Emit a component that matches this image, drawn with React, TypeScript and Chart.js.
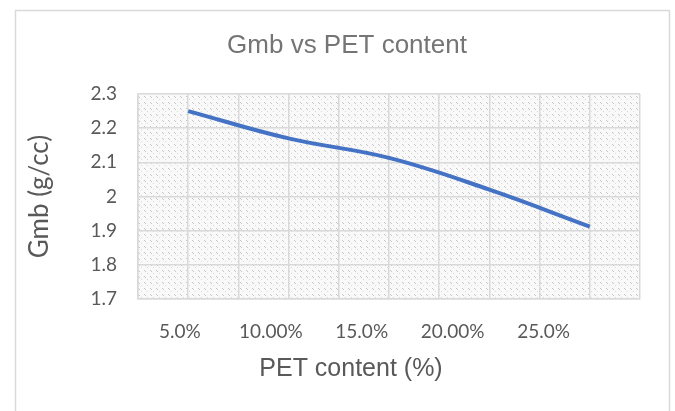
import React, { useEffect, useRef } from "react";
import { Chart, registerables } from "chart.js";

Chart.register(...registerables);

// PET content (%) and the measured bulk specific gravity
const petContent = [5, 10, 15, 20, 25];
const gmbValues = [2.25, 2.17, 2.113, 2.02, 1.912];
const xTickValues = [5, 10, 15, 20, 25];
const xTickLabels = ["5.0%", "10.00%", "15.0%", "20.00%", "25.0%"];

const chartTitle = "Gmb vs PET content";
const xTitle = "PET content (%)";
const yTitle = "Gmb (g/cc)";

const GRID = "#d9d9d9";
const TEXT = "#595959";

function makeHatch(ctx: CanvasRenderingContext2D): CanvasPattern | string {
  const tile = document.createElement("canvas");
  tile.width = 6;
  tile.height = 6;
  const c = tile.getContext("2d");
  if (!c) return "#f2f2f2";
  c.fillStyle = "#f9f9f9";
  c.fillRect(0, 0, 6, 6);
  c.fillStyle = "#c6c6c6";
  c.fillRect(0, 0, 1, 1);
  c.fillRect(1, 1, 1, 1);
  c.fillStyle = "#dadada";
  c.fillRect(3, 3, 1, 1);
  return ctx.createPattern(tile, "repeat") || "#f2f2f2";
}

// white page, outer frame and the textured plot background
const backdrop = {
  id: "backdrop",
  beforeDraw(chart: any) {
    const { ctx, chartArea } = chart;
    ctx.save();
    ctx.fillStyle = "#ffffff";
    ctx.fillRect(0, 0, chart.width, chart.height);
    ctx.strokeStyle = GRID;
    ctx.lineWidth = 1.5;
    ctx.strokeRect(15.5, 10.5, 654, chart.height + 20);
    ctx.fillStyle = makeHatch(ctx);
    ctx.fillRect(
      chartArea.left,
      chartArea.top,
      chartArea.right - chartArea.left,
      chartArea.bottom - chartArea.top
    );
    ctx.restore();
  },
};

// chart title and horizontal axis caption
const captions = {
  id: "captions",
  afterDraw(chart: any) {
    const { ctx } = chart;
    ctx.save();
    ctx.textAlign = "center";
    ctx.textBaseline = "middle";
    ctx.fillStyle = "#757575";
    ctx.font = "26px 'Liberation Sans', Arial";
    ctx.fillText(chartTitle, 347, 46);
    ctx.fillStyle = TEXT;
    ctx.font = "25px 'Liberation Sans', Arial";
    ctx.fillText(xTitle, 351, 369);
    ctx.restore();
  },
};

export default function App() {
  const ref = useRef<HTMLCanvasElement>(null);

  useEffect(() => {
    if (!ref.current) return;
    const chart = new Chart(ref.current, {
      type: "line",
      data: {
        datasets: [
          {
            label: "Gmb",
            data: petContent.map((x, i) => ({ x, y: gmbValues[i] })),
            borderColor: "#4472c4",
            borderWidth: 4,
            pointRadius: 0,
            tension: 0.4,
            fill: false,
          },
        ],
      },
      options: {
        animation: false,
        responsive: false,
        layout: { padding: { left: 0, right: 35, top: 94, bottom: 0 } },
        plugins: {
          legend: { display: false },
          tooltip: { enabled: false },
          title: { display: false },
        },
        scales: {
          x: {
            type: "linear",
            min: 2.5,
            max: 27.5,
            position: "bottom",
            ticks: { display: false, stepSize: 2.5 },
            grid: { color: GRID, lineWidth: 1.5, drawTicks: false },
            border: { color: GRID, width: 1.5 },
            afterFit(scale: any) {
              scale.height = 0;
            },
          },
          xLabels: {
            type: "linear",
            position: "bottom",
            min: 2.7,
            max: 30.3,
            afterBuildTicks(scale: any) {
              scale.ticks = xTickValues.map((v) => ({ value: v }));
            },
            ticks: {
              color: TEXT,
              font: { family: "Lato", size: 19 },
              padding: 21,
              maxRotation: 0,
              autoSkip: false,
              callback: (v: any) => xTickLabels[xTickValues.indexOf(Number(v))] ?? "",
            },
            grid: { display: false, drawTicks: false },
            border: { display: false },
            afterFit(scale: any) {
              scale.height = 112;
            },
          },
          y: {
            min: 1.7,
            max: 2.3,
            ticks: {
              stepSize: 0.1,
              color: TEXT,
              font: { family: "Lato", size: 19 },
              padding: 21,
              callback: (v: any) => String(Number(Number(v).toFixed(1))),
            },
            grid: { color: GRID, lineWidth: 1.5, drawTicks: false },
            border: { color: GRID, width: 1.5 },
            title: {
              display: true,
              text: yTitle,
              color: TEXT,
              font: { family: "Lato", size: 26 },
              padding: { top: 24, bottom: 0 },
            },
            afterFit(scale: any) {
              scale.width = 138;
            },
          },
        },
      },
      plugins: [backdrop, captions],
    });
    return () => chart.destroy();
  }, []);

  return (
    <div style={{ position: "absolute", left: 0, top: 0, width: 675, height: 411 }}>
      <canvas ref={ref} width={675} height={411} style={{ width: 675, height: 411 }} />
    </div>
  );
}
